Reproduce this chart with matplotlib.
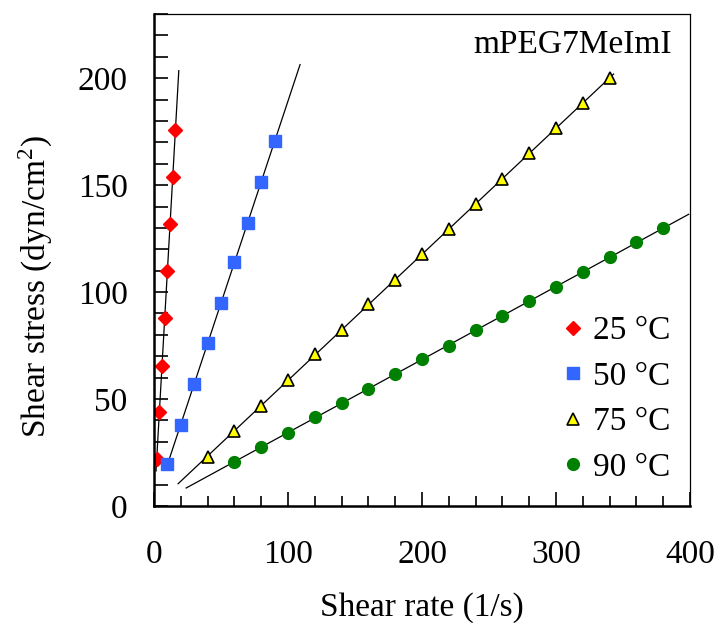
import numpy as np
import matplotlib
matplotlib.use("Agg")
import matplotlib.pyplot as plt
from matplotlib.ticker import MultipleLocator

plt.rcParams['font.family'] = ['Liberation Serif', 'DejaVu Serif']
plt.rcParams['mathtext.fontset'] = 'stix'

# shear rate (1/s) and shear stress (dyn/cm2) per temperature
rate_25 = [2, 4, 6, 8, 10, 12, 14, 16]
stress_25 = [22, 44, 65.5, 88, 110, 132, 154, 176]

rate_50 = [10, 20, 30, 40, 50, 60, 70, 80, 90]
stress_50 = [19.5, 38, 57, 76, 95, 114, 132.5, 151.5, 170.5]

rate_75 = [40, 60, 80, 100, 120, 140, 160, 180, 200, 220, 240, 260, 280, 300, 320, 340]
stress_75 = [23, 35, 46.8, 59, 71, 82.5, 94.3, 105.8, 117.8, 129.4, 141, 152.8, 165, 176.5, 188.2, 200.3]

rate_90 = [60, 80, 100, 120, 140, 160, 180, 200, 220, 240, 260, 280, 300, 320, 340, 360, 380]
stress_90 = [20.5, 27.5, 34.2, 41.5, 48.2, 54.8, 61.7, 68.6, 75, 82.2, 88.9, 95.8, 102.4, 109.3, 116.3, 123.2, 129.9]

# x-range covered by each fitted line
fit_range_25 = (1.5, 18.5)
fit_range_50 = (10, 109)
fit_range_75 = (18, 343)
fit_range_90 = (24, 399)

fig = plt.figure(figsize=(7.21, 6.23), dpi=100)
ax = fig.add_axes([0.2136, 0.1878, 0.7434, 0.7897])

series = [
    (rate_25, stress_25, fit_range_25, dict(marker='D', ms=7, color='#ff0000', mec='#ff0000'), '25 °C'),
    (rate_50, stress_50, fit_range_50, dict(marker='s', ms=8, color='#3366ff', mec='#3366ff'), '50 °C'),
    (rate_75, stress_75, fit_range_75, dict(marker='^', ms=8.5, color='#ffff00', mec='black', mew=1.2), '75 °C'),
    (rate_90, stress_90, fit_range_90, dict(marker='o', ms=8.5, color='#008000', mec='#008000'), '90 °C'),
]

for x, y, rng, style, label in series:
    slope, icpt = np.polyfit(x, y, 1)
    xf = np.array(rng)
    ax.plot(xf, slope * xf + icpt, color='black', lw=0.9, zorder=1)
    ax.plot(x, y, linestyle='none', label=label, zorder=2, **style)

ax.set_xlim(0, 400)
ax.set_ylim(0, 230)
ax.xaxis.set_major_locator(MultipleLocator(100))
ax.xaxis.set_minor_locator(MultipleLocator(20))
ax.yaxis.set_major_locator(MultipleLocator(50))
ax.yaxis.set_minor_locator(MultipleLocator(10))
ax.yaxis.set_major_formatter(plt.FuncFormatter(lambda v, p: '%d' % v if v <= 200 else ''))

ax.tick_params(which='both', direction='in', top=False, right=False, labelsize=24, width=1.2)
ax.tick_params(axis='x', which='major', length=10, pad=24)
ax.tick_params(axis='x', which='minor', length=7)
ax.tick_params(axis='y', which='major', length=10, pad=19)
ax.tick_params(axis='y', which='minor', length=10)

for side in ['left', 'bottom']:
    ax.spines[side].set_linewidth(1.8)
for side in ['top', 'right']:
    ax.spines[side].set_linewidth(0.9)

ax.set_xlabel('Shear rate (1/s)', fontsize=24)
ax.set_ylabel(r'Shear stress (dyn/cm$^\mathregular{2}$)', fontsize=24)
ax.xaxis.set_label_coords(0.5, -0.175)
ax.yaxis.set_label_coords(-0.187, 0.447)

ax.text(0.966, 0.937, 'mPEG7MeImI', transform=ax.transAxes, fontsize=24,
        ha='right', va='center')

ax.legend(loc='lower right', bbox_to_anchor=(1.007, 0.0), frameon=False, fontsize=24,
          handlelength=0.6, handletextpad=0.3, labelspacing=0.45, borderaxespad=0.3)

fig.savefig('out.png', dpi=100)
